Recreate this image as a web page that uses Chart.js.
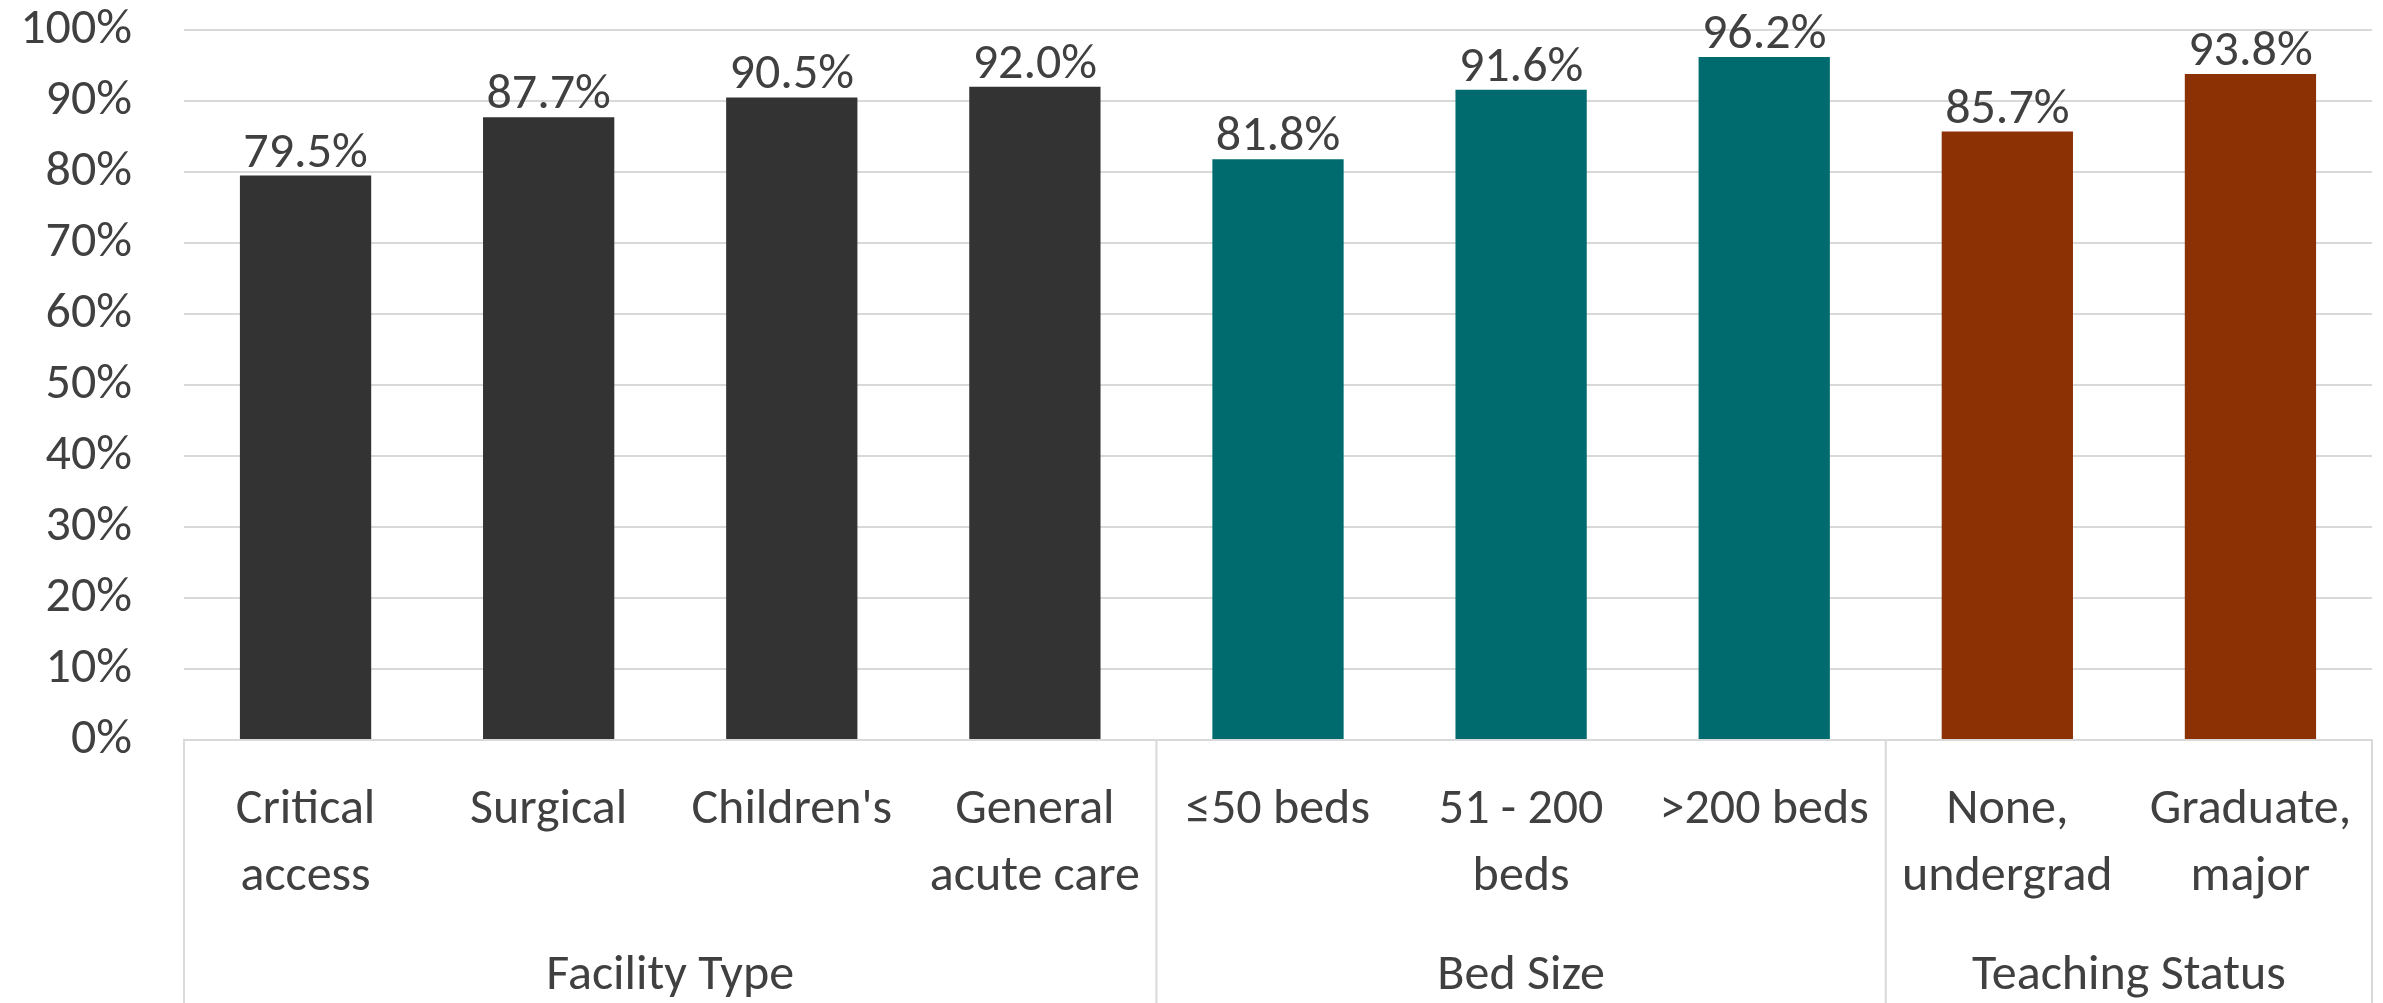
<!DOCTYPE html>
<html>
<head>
<meta charset="utf-8">
<script src="https://cdn.jsdelivr.net/npm/chart.js@4.4.0/dist/chart.umd.min.js"></script>
<style>
  html, body { margin: 0; padding: 0; background: #fff; }
  #wrap { width: 2383px; height: 1003px; position: relative; }
</style>
</head>
<body>
<div id="wrap"><canvas id="chart"></canvas></div>
<script>
// data
var categories = [
    ['Critical', 'access'], 'Surgical', "Children's", ['General', 'acute care'],
    '\u226450 beds', ['51 - 200', 'beds'], '>200 beds',
    ['None,', 'undergrad'], ['Graduate,', 'major']
];
var values = [79.5, 87.7, 90.5, 92.0, 81.8, 91.6, 96.2, 85.7, 93.8];
var groupNames = ['Facility Type', 'Bed Size', 'Teaching Status'];
var groupSizes = [4, 3, 2];
var groupColors = ['#333333', '#006b6e', '#8b3103'];
var yTicks = [0, 10, 20, 30, 40, 50, 60, 70, 80, 90, 100];

var textColor = '#404040';
var lineColor = '#d9d9d9';
var fontFamily = 'Carlito, Lato, "Open Sans", sans-serif';
var fontSize = 50;

var barColors = [];
groupSizes.forEach(function (n, g) {
    for (var i = 0; i < n; i++) barColors.push(groupColors[g]);
});

////////// value labels above each bar
var valueLabels = {
    id: 'valueLabels',
    afterDatasetsDraw: function (chart) {
        var ctx = chart.ctx;
        var meta = chart.getDatasetMeta(0);
        ctx.save();
        ctx.font = fontSize + 'px ' + fontFamily;
        ctx.fillStyle = textColor;
        ctx.textAlign = 'center';
        ctx.textBaseline = 'alphabetic';
        meta.data.forEach(function (bar, i) {
            ctx.fillText(values[i].toFixed(1) + '%', bar.x, bar.y - 9);
        });
        ctx.restore();
    }
};

////////// group separators and group names under the x axis
var groupAxis = {
    id: 'groupAxis',
    afterDraw: function (chart) {
        var ctx = chart.ctx;
        var x = chart.scales.x;
        var step = x.getPixelForValue(1) - x.getPixelForValue(0);
        var top = chart.chartArea.bottom;
        var bottom = chart.height;
        var edge = x.getPixelForValue(0) - step / 2;
        var edges = [edge];
        groupSizes.forEach(function (n) {
            edge += n * step;
            edges.push(edge);
        });

        ctx.save();
        ctx.strokeStyle = lineColor;
        ctx.lineWidth = 2;
        edges.forEach(function (px) {
            ctx.beginPath();
            ctx.moveTo(px, top);
            ctx.lineTo(px, bottom);
            ctx.stroke();
        });

        ctx.font = fontSize + 'px ' + fontFamily;
        ctx.fillStyle = textColor;
        ctx.textAlign = 'center';
        ctx.textBaseline = 'middle';
        groupNames.forEach(function (name, g) {
            ctx.fillText(name, (edges[g] + edges[g + 1]) / 2, 976);
        });
        ctx.restore();
    }
};

new Chart(document.getElementById('chart'), {
    type: 'bar',
    data: {
        labels: categories,
        datasets: [
            {
                data: values,
                backgroundColor: barColors,
                borderWidth: 0,
                barPercentage: 0.54,
                categoryPercentage: 1.0
            }
        ]
    },
    options: {
        responsive: true,
        maintainAspectRatio: false,
        animation: false,
        layout: {
            padding: { top: 30, right: 11, bottom: 0, left: 0 }
        },
        plugins: {
            legend: { display: false },
            tooltip: { enabled: false }
        },
        scales: {
            x: {
                grid: { display: false, drawTicks: false },
                border: { display: true, color: lineColor, width: 2 },
                ticks: {
                    color: textColor,
                    padding: 37,
                    maxRotation: 0,
                    autoSkip: false,
                    font: { family: fontFamily, size: fontSize, lineHeight: 1.34 }
                },
                afterFit: function (scale) {
                    scale.height = 263;
                    scale.paddingLeft = 0;
                    scale.paddingRight = 0;
                }
            },
            y: {
                min: 0,
                max: 100,
                afterBuildTicks: function (scale) {
                    scale.ticks = yTicks.map(function (v) { return { value: v }; });
                },
                grid: { color: lineColor, lineWidth: 2, drawTicks: false },
                border: { display: false },
                ticks: {
                    color: textColor,
                    padding: 52,
                    font: { family: fontFamily, size: fontSize, lineHeight: 1.2 },
                    callback: function (v) { return v + '%'; }
                },
                afterFit: function (scale) {
                    scale.width = 184;
                    scale.paddingTop = 0;
                    scale.paddingBottom = 0;
                }
            }
        }
    },
    plugins: [valueLabels, groupAxis]
});
</script>
</body>
</html>
